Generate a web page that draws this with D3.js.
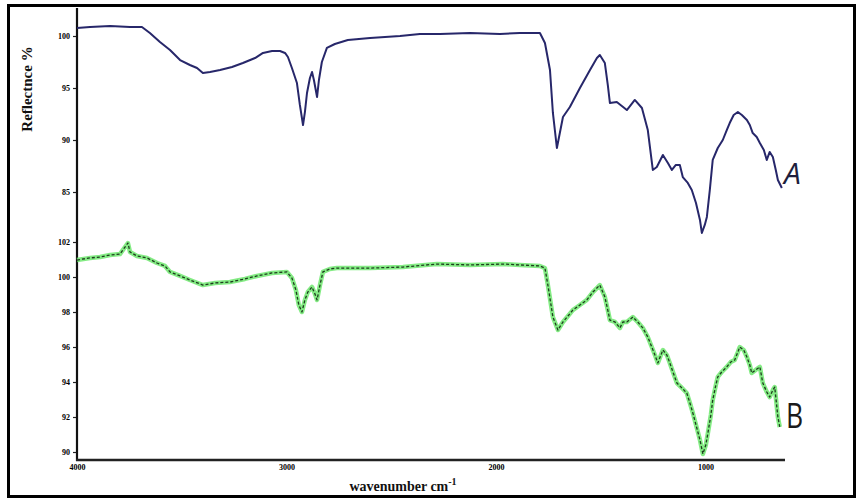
<!DOCTYPE html>
<html>
<head>
<meta charset="utf-8">
<script src="https://cdn.jsdelivr.net/npm/d3@7/dist/d3.min.js"></script>
<style>
  html, body { margin: 0; padding: 0; background: #fff; }
  svg { display: block; }
</style>
</head>
<body>
<svg id="chart" width="861" height="501"></svg>
<script>
// FT-IR reflectance spectra of two samples, stacked on a shared wavenumber axis

// Sample A: wavenumber (cm^-1) and reflectance (%)
const waveA = [4000,3938,3842,3747,3690,3652,3604,3556,3508,3461,3427,3399,3365,3317,3260,3208,3150,3112,3069,3031,3007,2993,2974,2950,2936,2921,2912,2902,2888,2878,2869,2854,2845,2831,2807,2769,2707,2601,2458,2363,2267,2124,1981,1886,1790,1766,1742,1728,1709,1680,1647,1599,1551,1518,1504,1480,1466,1456,1423,1399,1375,1337,1303,1275,1251,1232,1203,1179,1160,1141,1122,1108,1084,1065,1045,1026,1017,1003,993,979,965,941,917,898,884,865,845,826,802,788,774,755,740,721,707,693,678,664,654,635];
const reflA = [100.77,100.87,100.96,100.87,100.87,100.29,99.42,98.65,97.69,97.21,96.92,96.44,96.54,96.73,97.02,97.40,97.88,98.37,98.56,98.56,98.37,97.98,96.92,95.48,93.37,91.44,92.69,94.52,95.96,96.54,95.77,94.13,95.77,97.50,98.85,99.23,99.62,99.81,100.00,100.19,100.19,100.29,100.19,100.29,100.29,99.33,96.73,92.60,89.23,92.21,93.17,95.00,96.73,97.88,98.17,97.40,95.29,93.56,93.65,93.27,92.88,93.85,93.08,90.96,87.12,87.40,88.56,87.79,87.12,87.60,87.60,86.44,85.87,85.19,83.94,82.31,81.06,81.83,82.60,85.19,88.08,89.23,90.00,90.96,91.63,92.40,92.69,92.40,91.92,91.44,90.67,90.29,89.71,89.04,88.08,88.85,88.37,87.12,86.15,85.38];

// Sample B: wavenumber (cm^-1) and reflectance (%)
const waveB = [4000,3938,3890,3842,3795,3757,3747,3714,3666,3618,3580,3556,3508,3461,3399,3341,3270,3198,3141,3069,2998,2974,2955,2941,2926,2912,2898,2878,2864,2854,2840,2826,2793,2759,2601,2444,2282,2124,1967,1886,1790,1766,1752,1728,1704,1680,1656,1633,1599,1566,1537,1504,1480,1466,1456,1432,1408,1394,1375,1346,1323,1299,1275,1256,1241,1227,1203,1184,1170,1155,1136,1112,1089,1074,1060,1041,1026,1012,998,988,974,965,950,941,922,898,879,860,845,836,817,802,788,779,760,740,726,707,693,678,669,654,645];
const reflB = [100.97,101.09,101.14,101.26,101.31,101.94,101.43,101.20,101.09,100.80,100.63,100.29,100.06,99.83,99.54,99.66,99.71,99.89,100.06,100.23,100.29,99.94,99.26,98.40,98.00,98.69,99.14,99.43,99.03,98.69,99.54,100.29,100.46,100.51,100.51,100.57,100.74,100.69,100.74,100.69,100.63,100.51,99.54,97.71,96.97,97.43,97.77,98.11,98.40,98.69,99.14,99.54,98.86,98.11,97.54,97.43,97.09,97.43,97.43,97.71,97.43,97.09,96.57,96.00,95.54,95.09,95.83,95.54,95.09,94.57,93.94,93.66,93.37,92.80,92.23,91.37,90.69,89.89,90.40,91.09,92.11,92.97,93.83,94.29,94.57,94.86,95.14,95.26,95.71,96.00,95.83,95.43,94.97,94.51,94.69,94.86,93.94,93.43,93.14,93.54,93.71,92.00,91.43];

// Axis tick values and labels
const xTicks = [4000, 3000, 2000, 1000];
const yTicksA = [85, 90, 95, 100];
const yTicksB = [90, 92, 94, 96, 98, 100, 102];
const xTitle = "wavenumber cm";
const yTitle = "Reflectnce %";
const seriesLabels = ["A", "B"];

const svg = d3.select("#chart");
const W = 861, H = 501;

svg.append("rect").attr("width", W).attr("height", H).attr("fill", "#fff");

// Scales: one shared x, one y per stacked panel
const x = d3.scaleLinear().domain([4000, 620]).range([77, 785]);
const yA = d3.scaleLinear().domain([85, 100]).range([192, 36]);
const yB = d3.scaleLinear().domain([90, 102]).range([452, 242]);

const axisY0 = 8, axisY1 = 460;

// Outer frame
svg.append("rect")
  .attr("x", 8.5).attr("y", 5.5)
  .attr("width", 846).attr("height", 491)
  .attr("fill", "none").attr("stroke", "#000").attr("stroke-width", 3);

const tickFont = "'Liberation Serif', 'DejaVu Serif', serif";

// Left axes (ticks only; the spine is drawn once for both panels)
function leftAxis(scale, ticks) {
  const g = svg.append("g").attr("transform", "translate(77,0)")
    .call(d3.axisLeft(scale).tickValues(ticks).tickSize(4).tickPadding(3).tickFormat(d3.format("d")));
  g.select(".domain").remove();
  g.selectAll("line").attr("stroke", "#222").attr("stroke-width", 1.2);
  g.selectAll("text").attr("font-family", tickFont).attr("font-size", 8)
    .attr("font-weight", "bold").attr("fill", "#000");
  return g;
}
leftAxis(yA, yTicksA);
leftAxis(yB, yTicksB);

svg.append("line")
  .attr("x1", 77).attr("x2", 77).attr("y1", axisY0).attr("y2", axisY1 + 1)
  .attr("stroke", "#111").attr("stroke-width", 2.2);

// Bottom axis
const gx = svg.append("g").attr("transform", `translate(0,${axisY1})`)
  .call(d3.axisBottom(x).tickValues(xTicks).tickSize(0).tickPadding(4).tickFormat(d3.format("d")));
gx.select(".domain").remove();
gx.selectAll("text").attr("font-family", tickFont).attr("font-size", 8)
  .attr("font-weight", "bold").attr("fill", "#000");
svg.append("line")
  .attr("x1", 76).attr("x2", 785).attr("y1", axisY1).attr("y2", axisY1)
  .attr("stroke", "#222").attr("stroke-width", 2.4);

// Axis titles
const xt = svg.append("text")
  .attr("x", 403).attr("y", 491)
  .attr("text-anchor", "middle")
  .attr("font-family", tickFont).attr("font-size", 14).attr("font-weight", "bold")
  .attr("fill", "#111");
xt.append("tspan").text(xTitle);
xt.append("tspan").attr("dy", -6).attr("font-size", 10).text("-1");

svg.append("text")
  .attr("transform", "translate(32,89) rotate(-90)")
  .attr("text-anchor", "middle")
  .attr("font-family", tickFont).attr("font-size", 15).attr("font-weight", "bold")
  .attr("fill", "#111")
  .text(yTitle);

// Spectra
const dataA = waveA.map((w, i) => ({ w, r: reflA[i] }));
const dataB = waveB.map((w, i) => ({ w, r: reflB[i] }));

const lineA = d3.line().x(d => x(d.w)).y(d => yA(d.r));
const lineB = d3.line().x(d => x(d.w)).y(d => yB(d.r));

svg.append("path").datum(dataA).attr("d", lineA)
  .attr("fill", "none").attr("stroke", "#27276a").attr("stroke-width", 2)
  .attr("stroke-linejoin", "round");

svg.append("path").datum(dataB).attr("d", lineB)
  .attr("fill", "none").attr("stroke", "#6fe86f").attr("stroke-width", 4.5)
  .attr("stroke-linejoin", "round").attr("opacity", 0.85);
svg.append("path").datum(dataB).attr("d", lineB)
  .attr("fill", "none").attr("stroke", "#1f3d1f").attr("stroke-width", 1.3)
  .attr("stroke-dasharray", "3,2")
  .attr("stroke-linejoin", "round");

// Series labels
svg.append("text")
  .attr("x", 784).attr("y", 184)
  .attr("font-family", "'Open Sans', 'Liberation Sans', sans-serif")
  .attr("font-style", "italic").attr("font-size", 30)
  .attr("fill", "#1e1e3c")
  .text(seriesLabels[0]);

svg.append("text")
  .attr("transform", "translate(786,428) scale(0.78,1)")
  .attr("font-family", "'Open Sans', 'Liberation Sans', sans-serif")
  .attr("font-size", 34)
  .attr("fill", "#1a1a1a")
  .text(seriesLabels[1]);
</script>
</body>
</html>
